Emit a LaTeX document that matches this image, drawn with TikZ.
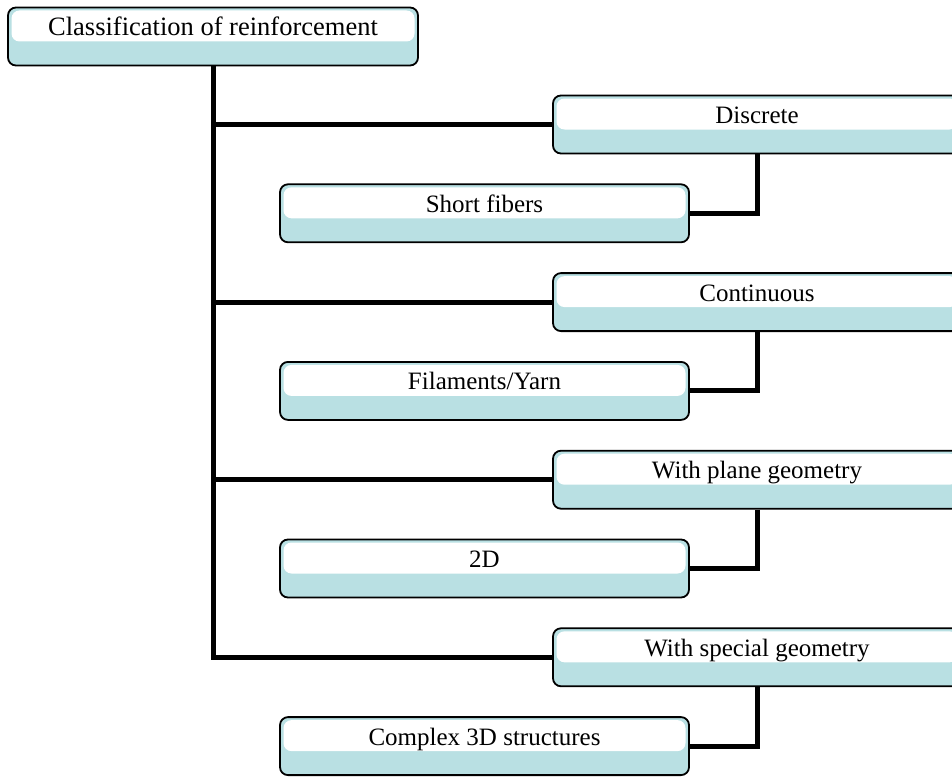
\documentclass[tikz,border=0pt]{standalone}
\usepackage{fontspec}
\setmainfont{Liberation Serif}
\definecolor{bandblue}{RGB}{185,224,227}
\begin{document}
\begin{tikzpicture}[x=1pt,y=-1pt,
  catbox/.style={draw=black, line width=1.8pt, rounded corners=8pt, fill=bandblue,
    inner xsep=0pt, inner ysep=0pt, text height=28pt, text depth=30pt,
    minimum height=58pt, font=\fontsize{25}{30}\selectfont,
    path picture={\fill[white] ([xshift=3.5pt,yshift=-3pt]path picture bounding box.north west)
      rectangle ([xshift=-3.5pt,yshift=-34pt]path picture bounding box.north east);}},
  rootbox/.style={catbox, minimum width=410pt, font=\fontsize{26.5}{31}\selectfont},
  rightbox/.style={catbox, minimum width=408pt},
  leftbox/.style={catbox, minimum width=409pt},
  link/.style={line width=5pt, line join=miter}]
\clip (0,0) rectangle (952,776);
% root
\node[rootbox] (root) at (213,36.5) {Classification of reinforcement};
% categories (right column) and their kinds (left column)
\node[rightbox] (disc) at (757,124.5) {Discrete};
\node[leftbox]  (short) at (484.5,213.3) {Short fibers};
\node[rightbox] (cont) at (757,302.1) {Continuous};
\node[leftbox]  (fil) at (484.5,390.9) {Filaments/Yarn};
\node[rightbox] (plane) at (757,479.7) {With plane geometry};
\node[leftbox]  (twod) at (484.5,568.5) {2D};
\node[rightbox] (spec) at (757,657.3) {With special geometry};
\node[leftbox]  (cplx) at (484.5,746.1) {Complex 3D structures};
% trunk and branches
\draw[link] (root.south) -- (root.south |- spec.west) -- (spec.west);
\draw[link] (root.south |- disc.west) -- (disc.west);
\draw[link] (root.south |- cont.west) -- (cont.west);
\draw[link] (root.south |- plane.west) -- (plane.west);
% category to kind
\draw[link] (disc.south) |- (short.east);
\draw[link] (cont.south) |- (fil.east);
\draw[link] (plane.south) |- (twod.east);
\draw[link] (spec.south) |- (cplx.east);
\end{tikzpicture}
\end{document}
